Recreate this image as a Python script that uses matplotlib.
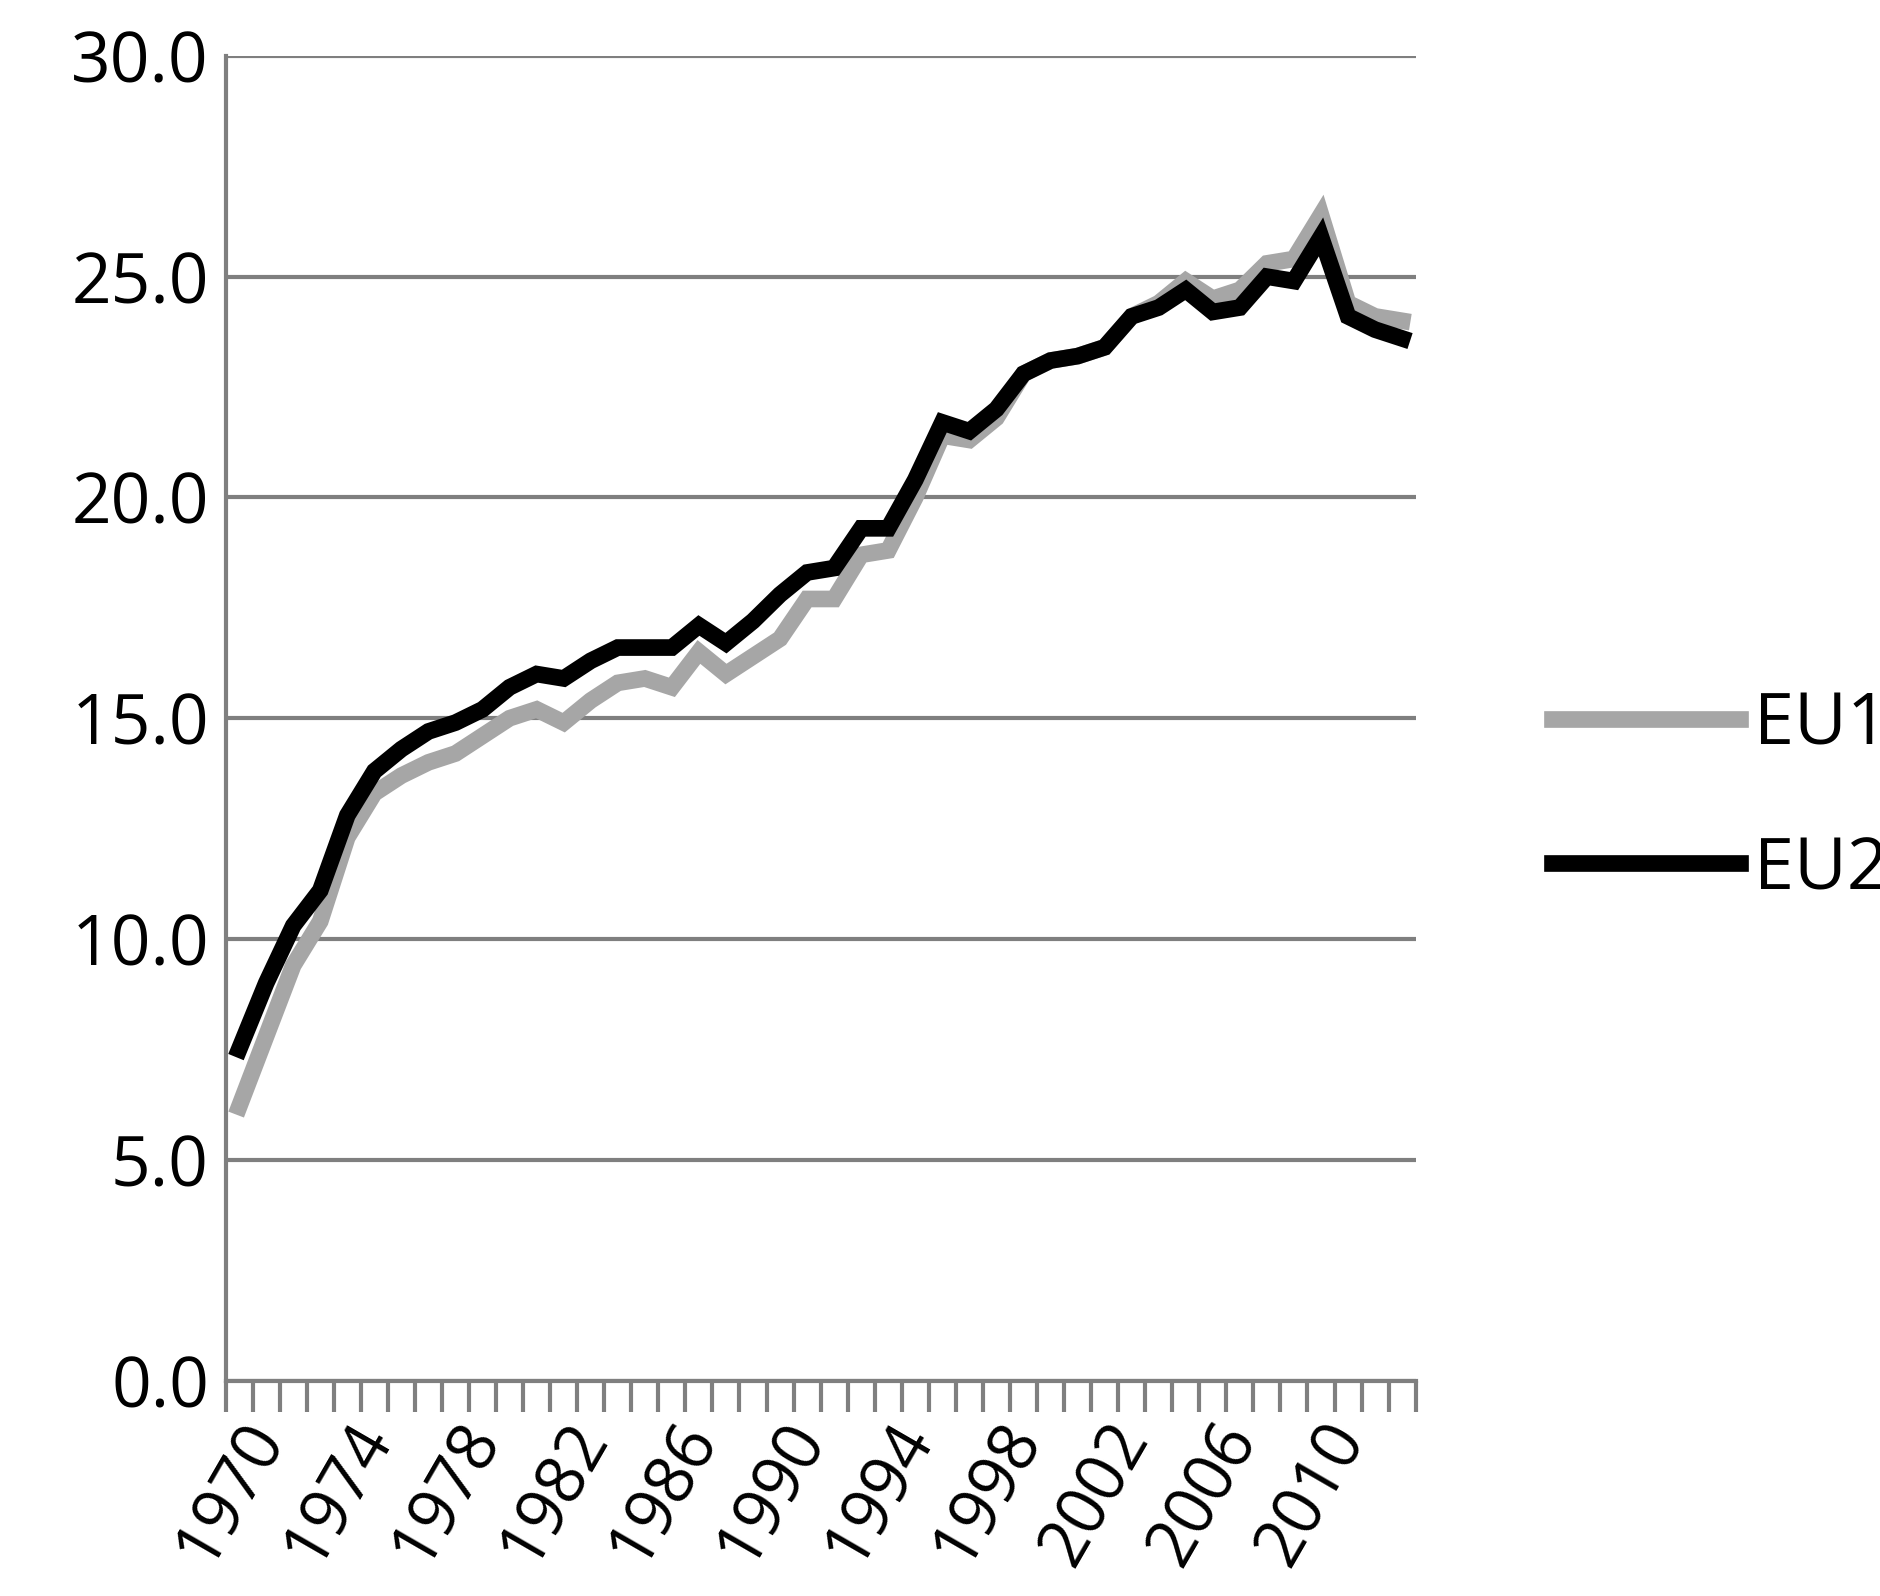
import matplotlib.pyplot as plt
import numpy as np

years = list(range(1970, 2014))
eu15 = [6.2, 7.8, 9.4, 10.4, 12.3, 13.3, 13.7, 14.0, 14.2, 14.6, 15.0, 15.2, 14.9, 15.4, 15.8,
        15.9, 15.7, 16.5, 16.0, 16.4, 16.8, 17.7, 17.7, 18.7, 18.8, 20.0, 21.4, 21.3, 21.8, 22.8,
        23.1, 23.2, 23.4, 24.1, 24.4, 24.9, 24.5, 24.7, 25.3, 25.4, 26.4, 24.4, 24.1, 24.0]
eu28 = [7.5, 9.0, 10.3, 11.1, 12.8, 13.8, 14.3, 14.7, 14.9, 15.2, 15.7, 16.0, 15.9, 16.3, 16.6,
        16.6, 16.6, 17.1, 16.7, 17.2, 17.8, 18.3, 18.4, 19.3, 19.3, 20.4, 21.7, 21.5, 22.0, 22.8,
        23.1, 23.2, 23.4, 24.1, 24.3, 24.7, 24.2, 24.3, 25.0, 24.9, 25.9, 24.1, 23.8, 23.6]

plt.rcParams['font.family'] = ['Open Sans', 'DejaVu Sans']
fig = plt.figure(figsize=(18.8, 15.96), dpi=100)
ax = fig.add_axes([0.12, 0.135, 0.633, 0.83])

x = np.arange(len(years))
ax.plot(x, eu15, color='#a6a6a6', lw=12, label='EU15', solid_joinstyle='miter')
ax.plot(x, eu28, color='black', lw=12, label='EU28', solid_joinstyle='miter')

ax.set_xlim(-0.5, len(years) - 0.5)
ax.set_ylim(0, 30)
ax.set_yticks(np.arange(0, 31, 5))
ax.set_yticklabels([f'{v:.1f}' for v in np.arange(0, 31, 5)], fontsize=50)
ax.yaxis.grid(True, color='#7f7f7f', lw=3)
ax.set_axisbelow(True)
ax.tick_params(axis='y', length=0, pad=12)

ax.set_xticks(np.arange(-0.5, len(years)), minor=True)
ax.set_xticks(x[::4])
ax.set_xticklabels([str(y) for y in years[::4]], rotation=60, ha='right',
                   rotation_mode='anchor', fontsize=48)
ax.tick_params(axis='x', which='major', length=0, pad=22)
ax.tick_params(axis='x', which='minor', length=22, width=3, color='#7f7f7f')

for s in ['top', 'right']:
    ax.spines[s].set_visible(False)
ax.spines['left'].set_color('#7f7f7f')
ax.spines['left'].set_linewidth(3)
ax.spines['bottom'].set_color('#7f7f7f')
ax.spines['bottom'].set_linewidth(3)

ax.legend(loc='center left', bbox_to_anchor=(1.06, 0.44), frameon=False, fontsize=52,
          handlelength=2.6, handletextpad=0.2, labelspacing=1.0)

fig.savefig('out.png')
